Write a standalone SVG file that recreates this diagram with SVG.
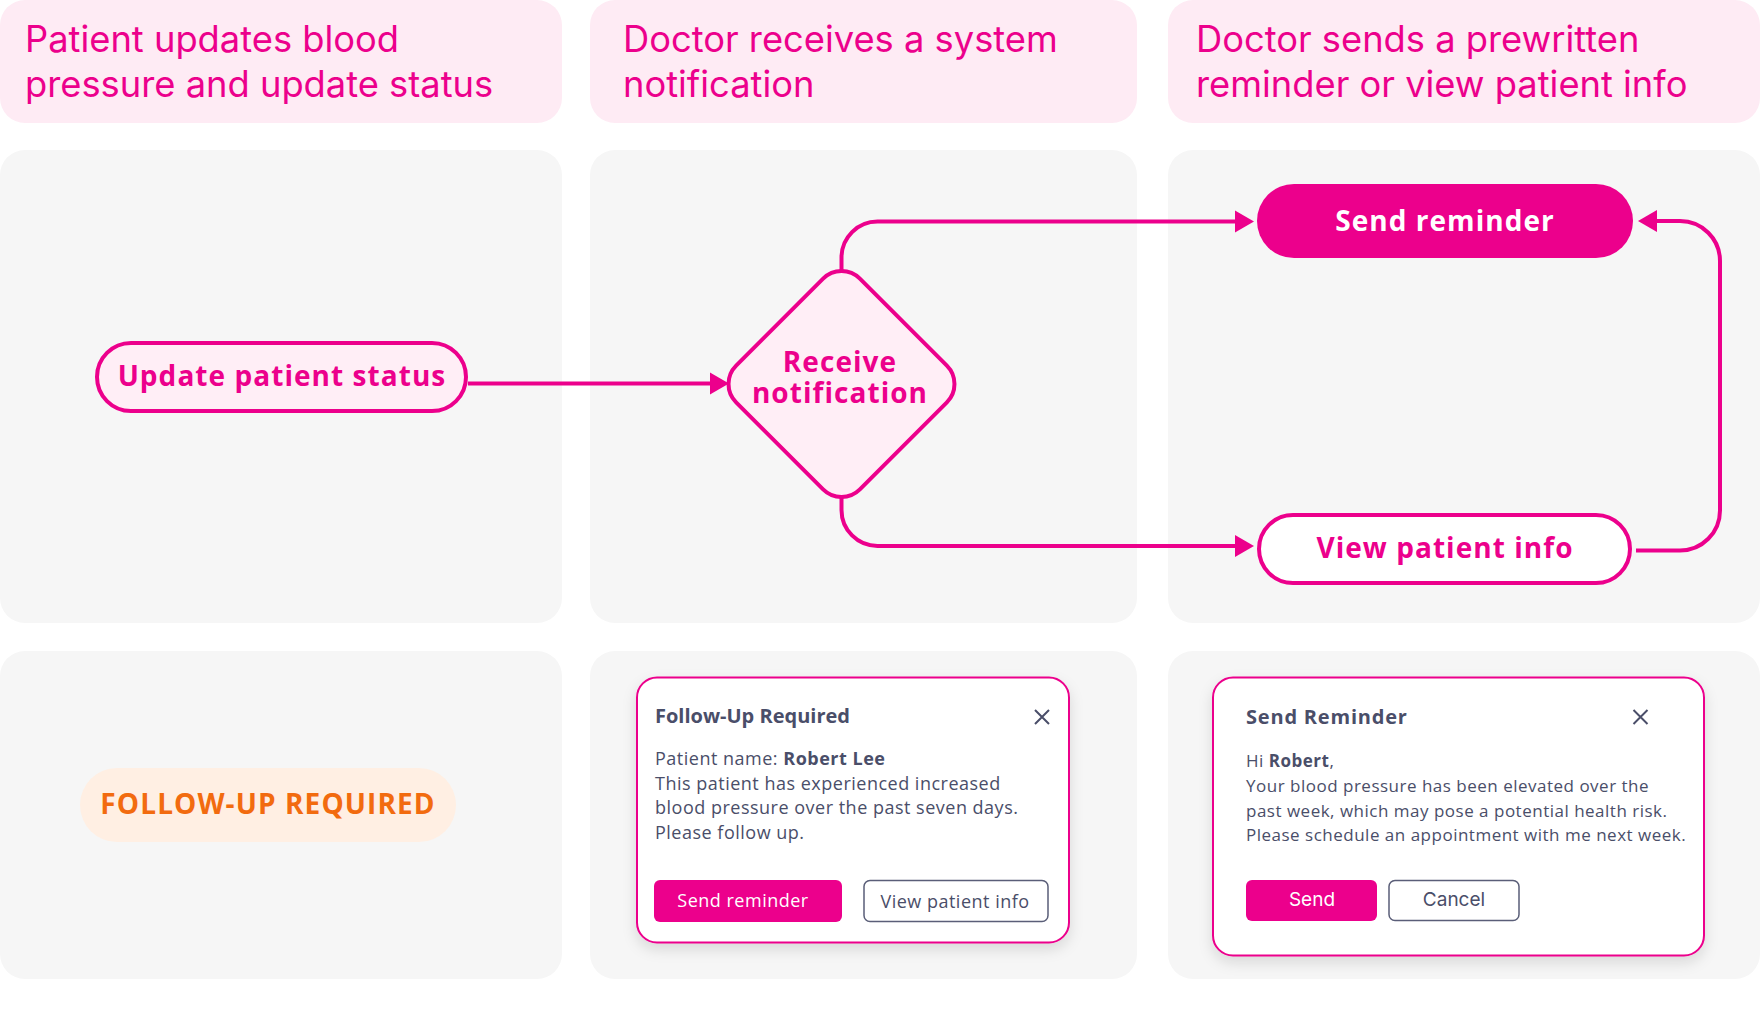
<svg xmlns="http://www.w3.org/2000/svg" width="1760" height="1018" viewBox="0 0 1760 1018">
<defs>
<style>
.hdr{fill:#FEEBF4}
.pnl{fill:#F6F6F6}
.htxt{font-family:Inter,"Liberation Sans",sans-serif;font-size:36.3px;fill:#EC008C}
.ntxt{font-family:"Open Sans","Noto Sans",sans-serif;font-weight:700;font-size:28px;letter-spacing:1.05px;fill:#EC008C;text-anchor:middle}
.node{fill:#FFEEF6;stroke:#EC008C;stroke-width:4}
.conn{fill:none;stroke:#EC008C;stroke-width:4}
.card{fill:#FFFFFF;stroke:#EC008C;stroke-width:2}
.ctitle{font-family:"Open Sans","Noto Sans",sans-serif;font-weight:700;font-size:20px;fill:#4A4E69}
.cbody{font-family:"Open Sans","Noto Sans",sans-serif;font-size:18px;letter-spacing:0.5px;fill:#4A4E69}
.cbody2{font-family:"Open Sans","Noto Sans",sans-serif;font-size:17px;letter-spacing:0.5px;fill:#4A4E69}
.btnf{fill:#EC008C}
.btno{fill:#FFFFFF;stroke:#5A5E78;stroke-width:1.5}
.close{stroke:#4A4E69;stroke-width:2;fill:none}
</style>
<marker id="arr" markerUnits="userSpaceOnUse" markerWidth="20" markerHeight="24" refX="0" refY="11" orient="auto" overflow="visible">
<path d="M0,0 L19,11 L0,22 Z" fill="#EC008C"/>
</marker>
<filter id="sh" x="-10%" y="-10%" width="120%" height="130%">
<feDropShadow dx="0" dy="6" stdDeviation="7" flood-color="#000" flood-opacity="0.12"/>
</filter>
</defs>

<g id="panels">
<rect class="hdr" x="0" y="0" width="562" height="123" rx="25"/>
<rect class="hdr" x="590" y="0" width="547" height="123" rx="25"/>
<rect class="hdr" x="1168" y="0" width="592" height="123" rx="25"/>
<rect class="pnl" x="0" y="150" width="562" height="473" rx="25"/>
<rect class="pnl" x="590" y="150" width="547" height="473" rx="25"/>
<rect class="pnl" x="1168" y="150" width="592" height="473" rx="25"/>
<rect class="pnl" x="0" y="651" width="562" height="328" rx="25"/>
<rect class="pnl" x="590" y="651" width="547" height="328" rx="25"/>
<rect class="pnl" x="1168" y="651" width="592" height="328" rx="25"/>
</g>

<g id="headers">
<text class="htxt" x="25" y="52">Patient updates blood</text>
<text class="htxt" x="25" y="97">pressure and update status</text>
<text class="htxt" x="623" y="52">Doctor receives a system</text>
<text class="htxt" x="623" y="97">notification</text>
<text class="htxt" x="1196" y="52">Doctor sends a prewritten</text>
<text class="htxt" x="1196" y="97">reminder or view patient info</text>
</g>

<g id="connectors">
<path class="conn" d="M468,383.5 H710" marker-end="url(#arr)"/>
<path class="conn" d="M841.5,271 V257.5 A36,36 0 0 1 877.5,221.5 H1235" marker-end="url(#arr)"/>
<path class="conn" d="M841.5,497 V510 A36,36 0 0 0 877.5,546 H1235" marker-end="url(#arr)"/>
<path class="conn" d="M1636,550.5 H1680 A40,40 0 0 0 1720,510.5 V261 A40,40 0 0 0 1680,221 H1657" marker-end="url(#arr)"/>
</g>

<g id="node-update">
<rect class="node" x="97" y="343" width="369" height="68" rx="34"/>
<text class="ntxt" x="282" y="386">Update patient status</text>
</g>

<g id="node-receive">
<rect class="node" x="-87.5" y="-87.5" width="175" height="175" rx="26" transform="translate(841.5 384) rotate(45)"/>
<text class="ntxt" x="840" y="372">Receive</text>
<text class="ntxt" x="840" y="403">notification</text>
</g>

<g id="node-send">
<rect x="1257" y="184" width="376" height="74" rx="37" fill="#EC008C"/>
<text class="ntxt" x="1445" y="231" style="fill:#FFFFFF">Send reminder</text>
</g>

<g id="node-view">
<rect x="1259" y="515" width="371" height="68" rx="34" fill="#FFFFFF" stroke="#EC008C" stroke-width="4"/>
<text class="ntxt" x="1445" y="558">View patient info</text>
</g>

<g id="badge-followup">
<rect x="80" y="768" width="376" height="74" rx="37" fill="#FFEFE3"/>
<text x="268" y="814" text-anchor="middle" font-family="'Open Sans','Noto Sans',sans-serif" font-weight="700" font-size="28" letter-spacing="1.1" fill="#F26B0F">FOLLOW-UP REQUIRED</text>
</g>

<g id="card-followup">
<rect class="card" x="637" y="677.5" width="432" height="265" rx="20" filter="url(#sh)"/>
<text class="ctitle" x="655" y="723">Follow-Up Required</text>
<path class="close" d="M1035,710 L1049,724 M1049,710 L1035,724"/>
<text class="cbody" x="655" y="765">Patient name: <tspan font-weight="700">Robert Lee</tspan></text>
<text class="cbody" x="655" y="789.5">This patient has experienced increased</text>
<text class="cbody" x="655" y="814">blood pressure over the past seven days.</text>
<text class="cbody" x="655" y="838.5">Please follow up.</text>
<rect class="btnf" x="654" y="880" width="188" height="42" rx="6"/>
<text class="cbody" x="743" y="907" text-anchor="middle" style="fill:#FFFFFF">Send reminder</text>
<rect class="btno" x="864" y="880.5" width="184" height="41" rx="6"/>
<text class="cbody" x="955" y="908" text-anchor="middle">View patient info</text>
</g>

<g id="card-reminder">
<rect class="card" x="1213" y="677.5" width="491" height="278" rx="20" filter="url(#sh)"/>
<text class="ctitle" x="1246" y="724" letter-spacing="0.8">Send Reminder</text>
<path class="close" d="M1633.5,710 L1647.5,724 M1647.5,710 L1633.5,724"/>
<text class="cbody2" x="1246" y="767">Hi <tspan font-weight="700">Robert</tspan>,</text>
<text class="cbody2" x="1246" y="792">Your blood pressure has been elevated over the</text>
<text class="cbody2" x="1246" y="816.5">past week, which may pose a potential health risk.</text>
<text class="cbody2" x="1246" y="841">Please schedule an appointment with me next week.</text>
<rect class="btnf" x="1246" y="880" width="131" height="41" rx="6"/>
<text x="1312" y="906" text-anchor="middle" font-family="Inter,'Liberation Sans',sans-serif" font-size="19" fill="#FFFFFF">Send</text>
<rect class="btno" x="1389" y="880.5" width="130" height="40" rx="6"/>
<text x="1454" y="906" text-anchor="middle" font-family="Inter,'Liberation Sans',sans-serif" font-size="19" fill="#4A4E69">Cancel</text>
</g>
</svg>
